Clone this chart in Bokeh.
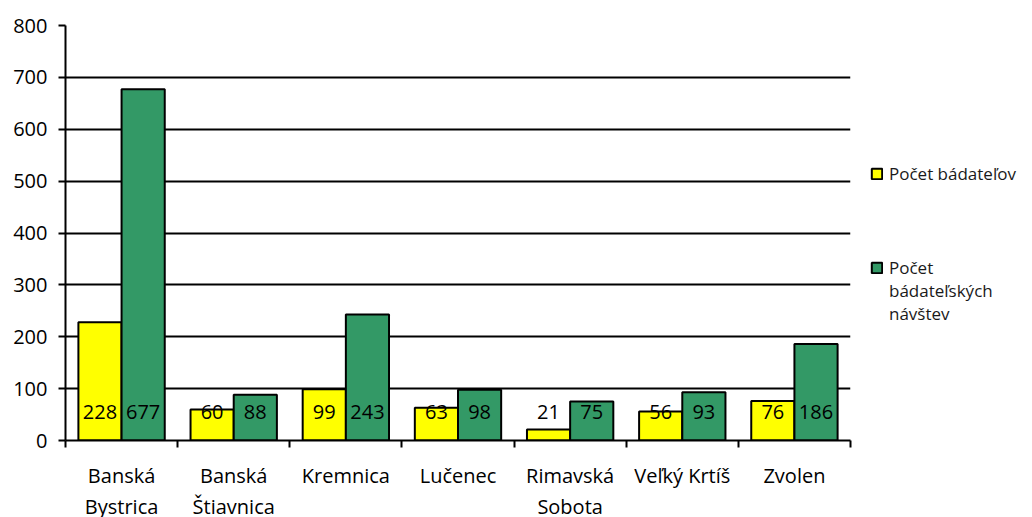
from bokeh.plotting import figure
from bokeh.models import (ColumnDataSource, Range1d, FixedTicker, Legend, LegendItem, LabelSet)
from bokeh.core.properties import value
from bokeh.embed import file_html
from bokeh.resources import INLINE

categories = ["Banská\nBystrica", "Banská\nŠtiavnica", "Kremnica", "Lučenec",
              "Rimavská\nSobota", "Veľký Krtíš", "Zvolen"]
researchers = [228, 60, 99, 63, 21, 56, 76]
visits = [677, 88, 243, 98, 75, 93, 186]
series_names = ["Počet bádateľov", " \n \nPočet\nbádateľských\nnávštev"]
y_ticks = [0, 100, 200, 300, 400, 500, 600, 700, 800]

FONT = "Open Sans"
FS = "20px"
YELLOW = "#FFFF00"
GREEN = "#339966"

n = len(categories)
centers = [i + 0.5 for i in range(n)]
bw = 0.385
label_y = 55

src_a = ColumnDataSource(dict(x=[c - bw / 2 for c in centers], top=researchers,
                              lbl=[str(v) for v in researchers], ly=[label_y] * n))
src_b = ColumnDataSource(dict(x=[c + bw / 2 for c in centers], top=visits,
                              lbl=[str(v) for v in visits], ly=[label_y] * n))

p = figure(output_backend="svg", toolbar_location=None,
           x_range=Range1d(0, n), y_range=Range1d(0, 800),
           frame_width=785, frame_height=415,
           min_border_left=65, min_border_top=25, min_border_right=166,
           min_border_bottom=0)
p.outline_line_color = None
p.background_fill_color = "white"
p.border_fill_color = "white"

r1 = p.vbar(x="x", top="top", width=bw, source=src_a, fill_color=YELLOW,
            line_color="black", line_width=2)
r2 = p.vbar(x="x", top="top", width=bw, source=src_b, fill_color=GREEN,
            line_color="black", line_width=2)

for s in (src_a, src_b):
    p.add_layout(LabelSet(x="x", y="ly", text="lbl", source=s, text_align="center",
                          text_baseline="middle", text_font=value(FONT),
                          text_font_size=value(FS), text_color="black"))

# axes
p.xgrid.visible = False
p.ygrid.ticker = FixedTicker(ticks=y_ticks)
p.ygrid.grid_line_color = "black"
p.ygrid.grid_line_width = 1.8

p.yaxis.ticker = FixedTicker(ticks=y_ticks)
p.yaxis.axis_line_color = "black"
p.yaxis.axis_line_width = 2
p.yaxis.major_tick_line_color = "black"
p.yaxis.major_tick_line_width = 1.8
p.yaxis.major_tick_out = 7
p.yaxis.major_tick_in = 0
p.yaxis.minor_tick_line_color = None
p.yaxis.major_label_text_font = FONT
p.yaxis.major_label_text_font_size = FS
p.yaxis.major_label_text_color = "black"
p.yaxis.major_label_standoff = 11

p.xaxis.ticker = FixedTicker(ticks=centers, minor_ticks=list(range(n + 1)))
p.xaxis.major_label_overrides = {c: lab for c, lab in zip(centers, categories)}
p.xaxis.axis_line_color = "black"
p.xaxis.axis_line_width = 2
p.xaxis.major_tick_line_color = None
p.xaxis.minor_tick_line_color = "black"
p.xaxis.minor_tick_line_width = 2
p.xaxis.minor_tick_out = 7
p.xaxis.minor_tick_in = 0
p.xaxis.major_tick_out = 7
p.xaxis.major_label_standoff = 14
p.xaxis.major_label_text_font = FONT
p.xaxis.major_label_text_font_size = FS
p.xaxis.major_label_text_color = "black"
p.xaxis.major_label_text_line_height = 1.15

legend = Legend(items=[LegendItem(label=series_names[0], renderers=[r1]),
                       LegendItem(label=series_names[1], renderers=[r2])],
                location=(20, 115), margin=0, padding=0, spacing=25,
                border_line_color=None, background_fill_alpha=0,
                label_text_font=FONT, label_text_font_size="17px",
                label_text_color="#1a1a1a", label_standoff=6,
                glyph_width=13, glyph_height=13)
p.add_layout(legend, "right")

open("out.html", "w").write(file_html(p, INLINE))
